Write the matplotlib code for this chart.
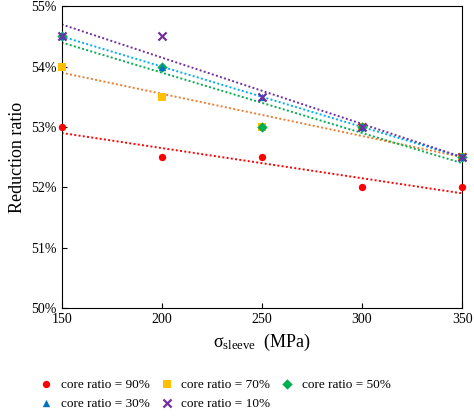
import numpy as np
import matplotlib.pyplot as plt
from matplotlib.ticker import FuncFormatter

plt.rcParams['font.family'] = ['Liberation Serif', 'DejaVu Serif']

sleeve = [150, 200, 250, 300, 350]
labels = ["core ratio = 90%", "core ratio = 70%", "core ratio = 50%",
          "core ratio = 30%", "core ratio = 10%"]
r90 = [53.0, 52.5, 52.5, 52.0, 52.0]
r70 = [54.0, 53.5, 53.0, 53.0, 52.5]
r50 = [54.5, 54.0, 53.0, 53.0, 52.5]
r30 = [54.5, 54.0, 53.5, 53.0, 52.5]
r10 = [54.5, 54.5, 53.5, 53.0, 52.5]
series = [r90, r70, r50, r30, r10]
colors = ['#ff0000', '#ffc000', '#00b050', '#0070c0', '#7030a0']
trend_colors = ['#ff0000', '#ed7d31', '#00b050', '#00b0f0', '#7030a0']
markers = ['o', 's', 'D', '^', 'x']

fig = plt.figure(figsize=(4.74, 4.19), dpi=100)
ax = fig.add_axes([0.13, 0.265, 0.845, 0.72])

x = np.array(sleeve)
handles = []
for ys, c, tc, m, lab in zip(series, colors, trend_colors, markers, labels):
    h = ax.scatter(x, ys, color=c, marker=m, s=28 if m != 'x' else 34,
                   linewidths=1.6 if m == 'x' else 0, label=lab, zorder=3, clip_on=False)
    handles.append(h)
    k, b = np.polyfit(x, ys, 1)
    ax.plot(x[[0, -1]], k * x[[0, -1]] + b, color=tc, ls=(0, (1, 1.2)), lw=1.4, zorder=2)

ax.set_xlim(150, 350)
ax.set_ylim(50, 55)
ax.set_xticks(sleeve)
ax.set_yticks(range(50, 56))
ax.yaxis.set_major_formatter(FuncFormatter(lambda v, p: f"{v:.0f}%"))
ax.tick_params(labelsize=10, direction='in')
ax.set_xlabel(r"$\mathregular{\sigma_{sleeve}}$  (MPa)", fontsize=13)
ax.set_ylabel("Reduction ratio", fontsize=13)

# legend fills column-wise; reorder so rows read 90,70,50 / 30,10
order = [0, 3, 1, 4, 2]
fig.legend([handles[i] for i in order], [labels[i] for i in order],
           loc='lower left', bbox_to_anchor=(0.05, 0.0), ncol=3, fontsize=9.5,
           frameon=False, handletextpad=0.1, columnspacing=0.3, borderaxespad=0.3)

fig.savefig("out.png", dpi=100)
